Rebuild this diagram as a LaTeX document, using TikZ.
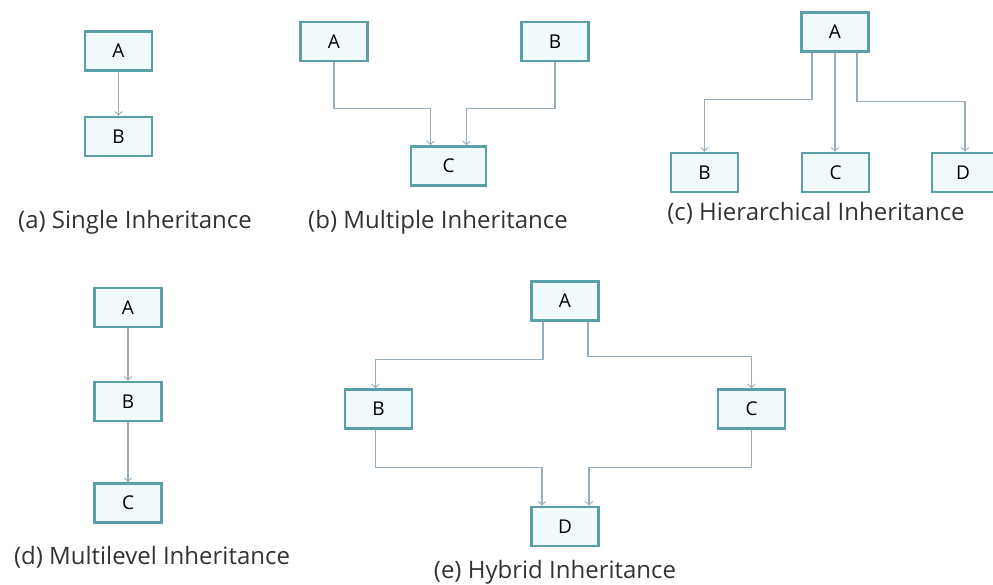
\documentclass[tikz,border=0pt]{standalone}
\usepackage{fontspec}
\setmainfont{Open Sans}
\usepackage{tikz}
\usetikzlibrary{arrows}

\definecolor{boxline}{HTML}{5A9EA7}
\definecolor{boxfill}{HTML}{F1FAFB}
\definecolor{linkline}{HTML}{98AEBD}

\begin{document}
\begin{tikzpicture}[x = 0.5pt, y = -0.5pt]
\tikzstyle{ClassStyle}=[shape = rectangle,
                        draw = boxline,
                        fill = boxfill,
                        line width = 1.3pt,
                        minimum width = 33.5pt,
                        minimum height = 19.5pt,
                        inner sep = 0pt,
                        font = \fontsize{9.5}{11}\selectfont]
\tikzstyle{inherit}=[->, >=to, draw = linkline, line width = 0.6pt]
\tikzstyle{caption}=[font = \fontsize{12}{14}\selectfont, text = black!80]
\useasboundingbox (0,0) rectangle (993,585);
% (a) single
\node[ClassStyle] (aA) at (118.5, 51) {A};
\node[ClassStyle] (aB) at (118.5, 136.5) {B};
\node[caption] (aT) at (135, 222) {(a) Single Inheritance};
\draw[inherit] (aA) -- (aB);
% (b) multiple
\node[ClassStyle] (bA) at (334, 41.5) {A};
\node[ClassStyle] (bB) at (555, 41.5) {B};
\node[ClassStyle, minimum width = 37.5pt] (bC) at (448.5, 166) {C};
\node[caption] (bT) at (438, 222) {(b) Multiple Inheritance};
\draw[inherit] (bA.south) -- ++(0,-23pt) -| ([xshift=-9pt]bC.north);
\draw[inherit] (bB.south) -- ++(0,-23pt) -| ([xshift=9pt]bC.north);
% (c) hierarchical
\node[ClassStyle] (cA) at (835, 32) {A};
\node[ClassStyle] (cB) at (704.5, 172.5) {B};
\node[ClassStyle] (cC) at (835.5, 172.5) {C};
\node[ClassStyle, minimum width = 31pt] (cD) at (963, 172.5) {D};
\node[caption] (cT) at (816, 213) {(c) Hierarchical Inheritance};
\draw[inherit] ([xshift=-11.5pt]cA.south) -- ++(0,-23.5pt) -| (cB.north);
\draw[inherit] (cA.south) -- (cA.south |- cC.north);
\draw[inherit] ([xshift=11pt]cA.south) -- ++(0,-24.5pt) -| ([xshift=1pt]cD.north);
% (d) multilevel
\node[ClassStyle] (dA) at (128, 307.5) {A};
\node[ClassStyle] (dB) at (128, 401.5) {B};
\node[ClassStyle] (dC) at (128, 503) {C};
\node[caption] (dT) at (152, 557) {(d) Multilevel Inheritance};
\draw[inherit] (dA) -- (dB);
\draw[inherit] (dB) -- (dC);
% (e) hybrid
\node[ClassStyle] (eA) at (565, 301) {A};
\node[ClassStyle] (eB) at (378.5, 409) {B};
\node[ClassStyle] (eC) at (751.5, 409) {C};
\node[ClassStyle] (eD) at (565, 526.5) {D};
\node[caption] (eT) at (555, 572) {(e) Hybrid Inheritance};
\draw[inherit] ([xshift=-11pt]eA.south) -- ++(0,-19pt) -| ([xshift=-1.5pt]eB.north);
\draw[inherit] ([xshift=11.5pt]eA.south) -- ++(0,-17.5pt) -| (eC.north);
\draw[inherit] ([xshift=-1.5pt]eB.south) -- ++(0,-19pt) -| ([xshift=-11.5pt]eD.north);
\draw[inherit] (eC.south) -- ++(0,-19pt) -| ([xshift=12pt]eD.north);
\end{tikzpicture}
\end{document}
